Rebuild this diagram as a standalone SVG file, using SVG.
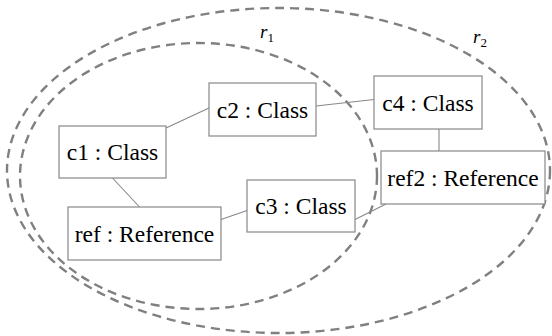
<svg xmlns="http://www.w3.org/2000/svg" width="552" height="336" viewBox="0 0 552 336">
<style>
.region{fill:none;stroke:#808080;stroke-width:2.4;stroke-dasharray:9 6}
.box{fill:#fff;stroke:#888;stroke-width:1.2}
.edge{stroke:#888;stroke-width:1.1;fill:none}
text{font-family:"Liberation Serif","Times New Roman",Times,"DejaVu Serif",serif;fill:#000}
.lbl{font-size:23.5px;text-anchor:middle}
</style>
<g id="regions">
<ellipse class="region" cx="278.5" cy="170.5" rx="271.5" ry="162.5"/>
<ellipse class="region" cx="198.5" cy="176" rx="178.5" ry="133"/>
<text x="260" y="38" font-size="19" font-style="italic">r<tspan font-size="13" font-style="normal" dy="4">1</tspan></text>
<text x="473" y="43" font-size="19" font-style="italic">r<tspan font-size="13" font-style="normal" dy="4">2</tspan></text>
</g>
<g id="connectors">
<line class="edge" x1="166" y1="128" x2="209" y2="108"/>
<line class="edge" x1="316" y1="106" x2="374" y2="99.5"/>
<line class="edge" x1="439" y1="129" x2="439" y2="151"/>
<line class="edge" x1="112.5" y1="178" x2="139.5" y2="207"/>
<line class="edge" x1="221" y1="219.5" x2="247" y2="210.5"/>
<line class="edge" x1="355" y1="219.5" x2="386" y2="204"/>
</g>
<g id="c1">
<rect class="box" x="59" y="126" width="107" height="52"/>
<text class="lbl" x="112.5" y="160">c1 : Class</text>
</g>
<g id="c2">
<rect class="box" x="209" y="83" width="107" height="53"/>
<text class="lbl" x="262.5" y="117.5">c2 : Class</text>
</g>
<g id="c4">
<rect class="box" x="374" y="76" width="108" height="53"/>
<text class="lbl" x="428" y="110.5">c4 : Class</text>
</g>
<g id="ref2">
<rect class="box" x="381" y="151" width="164" height="53"/>
<text class="lbl" x="463" y="185.5">ref2 : Reference</text>
</g>
<g id="ref">
<rect class="box" x="68" y="207" width="153" height="53"/>
<text class="lbl" x="144.5" y="241.5">ref : Reference</text>
</g>
<g id="c3">
<rect class="box" x="247" y="180" width="108" height="52"/>
<text class="lbl" x="301" y="214">c3 : Class</text>
</g>
</svg>
